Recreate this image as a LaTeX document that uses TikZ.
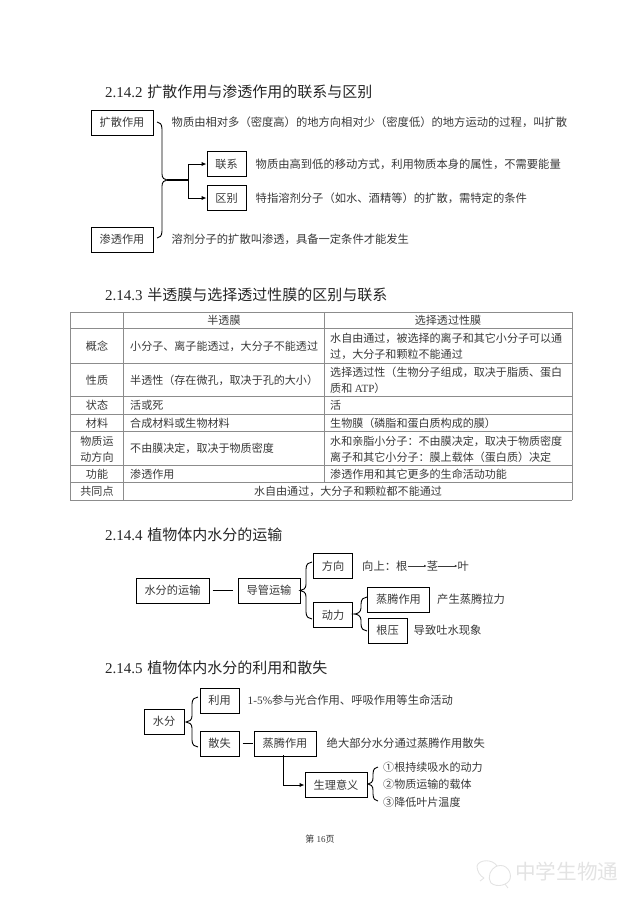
\documentclass[tikz,border=0pt]{standalone}
\usepackage{fontspec}
\usepackage{tikz}
\usetikzlibrary{arrows.meta,positioning}
\setmainfont{Liberation Serif}
\newfontfamily\cjk{Noto Sans CJK SC}
\definecolor{inkgray}{gray}{0.22}
\definecolor{rulegray}{gray}{0.55}
\definecolor{markgray}{gray}{0.89}
% end x, top y, bottom y, stem x, tip x
\newcommand{\brcpath}[5]{%
  \draw[brc] (#1,#2) .. controls ({#4+0.5*(#1-#4)},#2) and (#4,{#2+2}) .. (#4,{#2+7})
    -- (#4,{(#2+#3)/2-6}) .. controls (#4,{(#2+#3)/2-2}) and ({#4+0.5*(#5-#4)},{(#2+#3)/2}) .. (#5,{(#2+#3)/2})
    .. controls ({#4+0.5*(#5-#4)},{(#2+#3)/2}) and (#4,{(#2+#3)/2+2}) .. (#4,{(#2+#3)/2+6})
    -- (#4,{#3-7}) .. controls (#4,{#3-2}) and ({#4+0.5*(#1-#4)},#3) .. (#1,#3);}

\begin{document}
\begin{tikzpicture}[
  x=1pt, y=-1pt,
  title/.style={anchor=west, inner sep=0pt, text=black!85, font=\fontsize{15}{16}\selectfont},
  box/.style={draw=black, line width=1pt, inner sep=0pt, minimum height=25pt, text=inkgray,
              font=\cjk\fontsize{11.2}{16}\selectfont},
  wide/.style={box, minimum width=62pt},
  small/.style={box, minimum width=39pt},
  txt/.style={inner sep=0pt, text=inkgray, align=left, font=\cjk\fontsize{11.3}{16}\selectfont},
  lbl/.style={txt, anchor=west},
  cell/.style={txt, font=\cjk\fontsize{11.05}{16}\selectfont},
  lcell/.style={cell, anchor=west},
  rule/.style={draw=rulegray, line width=0.6pt},
  arr/.style={-{Latex[length=5pt,width=4.5pt]}, line width=1pt},
  tinyarr/.style={-{Latex[length=2.5pt,width=2.5pt]}, line width=0.5pt, draw=inkgray},
  brc/.style={line width=0.9pt},
  plain/.style={line width=1.1pt}
]
  \useasboundingbox (0,0) rectangle (640,905);

  % 2.14.2
  \node[title] (t2) at (105,92) {2.14.2\hspace{1pt} {\cjk 扩散作用与渗透作用的联系与区别}};
  \node[wide] (kuosan) at (122,122.5) {扩散作用};
  \node[wide] (shentou) at (122,239.5) {渗透作用};
  \node[small] (lianxi) at (226.5,164) {联系};
  \node[small, below=8pt of lianxi] (qubie) {区别};
  \node[lbl, right=18pt of kuosan] (kuosantxt) {物质由相对多（密度高）的地方向相对少（密度低）的地方运动的过程，叫扩散};
  \node[lbl, right=18pt of shentou] (shentoutxt) {溶剂分子的扩散叫渗透，具备一定条件才能发生};
  \node[lbl, right=9pt of lianxi] (lianxitxt) {物质由高到低的移动方式，利用物质本身的属性，不需要能量};
  \node[lbl, right=9pt of qubie] (qubietxt) {特指溶剂分子（如水、酒精等）的扩散，需特定的条件};
  \coordinate (tip2) at (167,180);
  \coordinate (fork2) at (188,180);
  \brcpath{157}{122}{238}{162}{167}
  \draw[plain] (tip2) -- (fork2);
  \draw[arr] (fork2) |- (lianxi.west);
  \draw[arr] (fork2) |- (qubie.west);

  % 2.14.3
  \node[title] (t3) at (105,295) {2.14.3\hspace{1pt} {\cjk 半透膜与选择透过性膜的区别与联系}};
  \foreach \yy in {312,328,363,396,414,431,465,482,500}
    \draw[rule] (70,\yy) -- (572,\yy);
  \draw[rule] (70,312) -- (70,500);
  \draw[rule] (123,312) -- (123,500);
  \draw[rule] (324,312) -- (324,482);
  \draw[rule] (572,312) -- (572,500);

  \node[cell] (h1) at (224,320) {半透膜};
  \node[cell] (h2) at (448,320) {选择透过性膜};
  \node[cell] (r1) at (97,346) {概念};
  \node[cell] (r2) at (97,380) {性质};
  \node[cell] (r3) at (97,405) {状态};
  \node[cell] (r4) at (97,423) {材料};
  \node[cell, align=center] (r5) at (97,449) {物质运\\动方向};
  \node[cell] (r6) at (97,474) {功能};
  \node[cell] (r7) at (97,491) {共同点};
  \node[lcell] (a1) at (130,346) {小分子、离子能透过，大分子不能透过};
  \node[lcell] (a2) at (130,380) {半透性（存在微孔，取决于孔的大小）};
  \node[lcell] (a3) at (130,405) {活或死};
  \node[lcell] (a4) at (130,423) {合成材料或生物材料};
  \node[lcell] (a5) at (130,448) {不由膜决定，取决于物质密度};
  \node[lcell] (a6) at (130,474) {渗透作用};
  \node[lcell] (b1) at (330,346) {水自由通过，被选择的离子和其它小分子可以通\\过，大分子和颗粒不能通过};
  \node[lcell] (b2) at (330,380) {选择透过性（生物分子组成，取决于脂质、蛋白\\质和 {\rmfamily ATP}）};
  \node[lcell] (b3) at (330,405) {活};
  \node[lcell] (b4) at (330,423) {生物膜（磷脂和蛋白质构成的膜）};
  \node[lcell] (b5) at (330,449) {水和亲脂小分子：不由膜决定，取决于物质密度\\离子和其它小分子：膜上载体（蛋白质）决定};
  \node[lcell] (b6) at (330,474) {渗透作用和其它更多的生命活动功能};
  \node[cell] (c1) at (348,491) {水自由通过，大分子和颗粒都不能通过};

  % 2.14.4
  \node[title] (t4) at (105,535) {2.14.4\hspace{1pt} {\cjk 植物体内水分的运输}};
  \node[box, minimum width=73pt] (yunshu) at (172.5,590.5) {水分的运输};
  \node[wide, right=28pt of yunshu] (daoguan) {导管运输};
  \node[small] (fangxiang) at (333,566) {方向};
  \node[small, below=23pt of fangxiang] (dongli) {动力};
  \node[wide] (zhengteng) at (398.5,599.5) {蒸腾作用};
  \node[small] (genya) at (387.5,630.5) {根压};
  \node[lbl, right=9pt of fangxiang] (up) {向上：根};
  \node[txt, right=19pt of up] (jing) {茎};
  \node[txt, right=19pt of jing] (ye) {叶};
  \node[lbl, right=7pt of zhengteng] (lali) {产生蒸腾拉力};
  \node[lbl, right=6pt of genya] (tushui) {导致吐水现象};
  \draw[plain] (yunshu.east) ++(3,0) coordinate (ls1) -- ([xshift=-5pt]daoguan.west);
  \draw[tinyarr] (up) -- (jing);
  \draw[tinyarr] (jing) -- (ye);
  \brcpath{312}{562}{619}{306}{300}
  \brcpath{367}{597}{631}{361}{354}

  % 2.14.5
  \node[title] (t5) at (105,668) {2.14.5\hspace{1pt} {\cjk 植物体内水分的利用和散失}};
  \node[small, minimum width=40pt] (shuifen) at (164,721.5) {水分};
  \node[small] (liyong) at (219.5,700.5) {利用};
  \node[small, below=17pt of liyong] (sanshi) {散失};
  \node[wide, right=14pt of sanshi] (zhengteng2) {蒸腾作用};
  \node[wide] (yiyi) at (336,785) {生理意义};
  \node[lbl, right=8pt of liyong] (liyongtxt) {{\rmfamily 1-5\%}参与光合作用、呼吸作用等生命活动};
  \node[lbl, right=10pt of zhengteng2] (sanshitxt) {绝大部分水分通过蒸腾作用散失};
  \node[lcell] (y1) at (383,767) {①根持续吸水的动力};
  \node[lcell] (y2) at (383,784) {②物质运输的载体};
  \node[lcell] (y3) at (383,802) {③降低叶片温度};
  \draw[plain] ([xshift=3pt]sanshi.east) -- ([xshift=-1pt]zhengteng2.west);
  \coordinate (drop) at (283,755);
  \draw[arr] (drop) |- (yiyi.west);
  \brcpath{198}{697}{747}{192}{186}
  \brcpath{378}{767}{801}{373}{368}

  % page number and mark
  \node[txt, font=\cjk\fontsize{9}{10}\selectfont] (page) at (320,839) {第 {\rmfamily 16}页};
  \node[lbl, text=markgray, font=\cjk\fontsize{20.6}{22}\selectfont] (mark) at (515,872) {中学生物通};
  \draw[markgray, line width=0.9pt] (477,866) .. controls (479,859) and (493,859) .. (497,866);
  \draw[markgray, line width=0.9pt] (484,878) .. controls (480,876) and (477,871) .. (477,866);
  \draw[markgray, line width=0.9pt] (497,866) .. controls (507,863) and (512,873) .. (510,879) .. controls (508,885) and (497,888) .. (491,883) .. controls (487,878) and (490,869) .. (497,866);
  \draw[markgray, line width=0.9pt] (484,878) -- (480,881);
  \draw[markgray, line width=0.9pt] (505,884) -- (508,888);
\end{tikzpicture}
\end{document}
